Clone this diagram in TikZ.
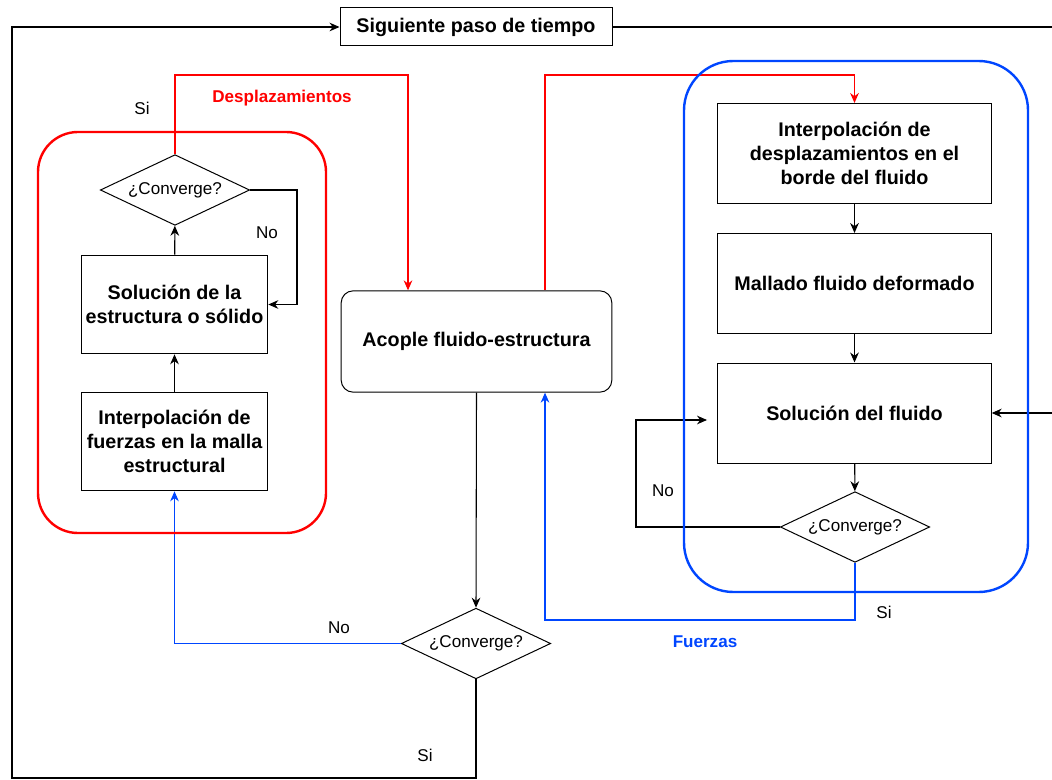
\documentclass[tikz,border=0pt]{standalone}
\usepackage{fontspec}
\setmainfont{Liberation Sans}
\usetikzlibrary{arrows.meta, positioning, shapes.geometric}

\definecolor{dioRed}{HTML}{FF0000}
\definecolor{dioBlue}{HTML}{0046FF}

\begin{document}
\begin{tikzpicture}[
        x=0.75pt, y=-0.75pt,
        >={Stealth[length=7.5pt, width=6.5pt]},
        every node/.style={align=center},
        box/.style={draw, fill=white, line width=0.75pt, minimum width=205pt, minimum height=75pt, font=\bfseries\fontsize{14.8}{18}\selectfont},
        smallbox/.style={box, minimum width=140pt, minimum height=74pt},
        titlebox/.style={box, minimum width=204pt, minimum height=28.5pt},
        couple/.style={box, rounded corners=9pt, minimum width=203pt, minimum height=76pt},
        decision/.style={draw, fill=white, diamond, aspect=2.1, line width=0.75pt, minimum width=112pt, minimum height=53pt, inner sep=0pt, font=\fontsize{12.8}{14}\selectfont},
        lbl/.style={font=\fontsize{12.8}{14}\selectfont},
        redlbl/.style={lbl, text=dioRed, font=\bfseries\fontsize{12.8}{14}\selectfont},
        bluelbl/.style={lbl, text=dioBlue, font=\bfseries\fontsize{12.8}{14}\selectfont},
        flow/.style={->, line width=0.8pt},
        redflow/.style={flow, draw=dioRed},
        blueflow/.style={flow, draw=dioBlue},
        frame/.style={line width=1.8pt}
    ]
    \useasboundingbox (0,0) rectangle (1052,780);

    % time loop
    \node[titlebox] (next) at (476,27) {Siguiente paso de tiempo};

    % structural solver
    \node[decision] (convE) at (175,190) {¿Converge?};
    \node[smallbox] (solest) at (174.5,304.5) {Solución de la\\estructura o sólido};
    \node[smallbox] (intfue) at (174.5,441.5) {Interpolación de\\fuerzas en la malla\\estructural};

    % coupling
    \node[couple] (acople) at (476.5,341.5) {Acople fluido-estructura};
    \node[decision] (convA) at (476,643.5) {¿Converge?};

    % fluid solver
    \node[box] (intdes) at (854.5,153.5) {Interpolación de\\desplazamientos en el\\borde del fluido};
    \node[box] (mallado) at (854.5,283.5) {Mallado fluido deformado};
    \node[box] (solflu) at (854.5,413) {Solución del fluido};
    \node[decision] (convF) at (855,527) {¿Converge?};

    % labels
    \node[lbl] (siE) at (142,108) {Si};
    \node[lbl] (noE) at (267,233) {No};
    \node[redlbl] (desp) at (282,98) {Desplazamientos};
    \node[lbl] (noF) at (663,491) {No};
    \node[lbl] (siF) at (884,612) {Si};
    \node[bluelbl] (fuer) at (705,642) {Fuerzas};
    \node[lbl] (noA) at (339,628) {No};
    \node[lbl] (siA) at (425,755) {Si};

    \coordinate (noEc) at (297,190);
    \coordinate (despA) at (408,75);
    \coordinate (despB) at (545,75);
    \coordinate (noFc) at (636,420);
    \coordinate (noFt) at (707,420);
    \coordinate (fuerB) at (545,620);
    \coordinate (loopBL) at (12,778);
    \coordinate (loopTR) at (1062,27);

    % structural loop
    \draw[flow] (intfue) -- (solest);
    \draw[flow] (solest) -- (convE);
    \draw[flow] (convE.east) -- (noEc) |- (solest.east);
    \draw[redflow] (convE.north) |- (despA) -- (despA |- acople.north);

    % fluid loop
    \draw[redflow] (despB |- acople.north) -- (despB) -| (intdes.north);
    \draw[flow] (intdes) -- (mallado);
    \draw[flow] (mallado) -- (solflu);
    \draw[flow] (solflu) -- (convF);
    \draw[flow] (convF.west) -| (noFc) -- (noFt);
    \draw[blueflow] (convF.south) |- (fuerB) -- (fuerB |- acople.south);

    % coupling loop
    \draw[flow] (acople.south) -- (convA.north);
    \draw[blueflow] (convA.west) -| (intfue.south);
    \draw[flow] (convA.south) |- (loopBL) |- (next.west);
    \draw[flow] (next.east) -- (loopTR) |- (solflu.east);

    % solver frames
    \draw[frame, draw=dioRed, rounded corners=30pt] (38,132) rectangle (326,533);
    \draw[frame, draw=dioBlue, rounded corners=37pt] (684,61) rectangle (1028,592);

\end{tikzpicture}
\end{document}
